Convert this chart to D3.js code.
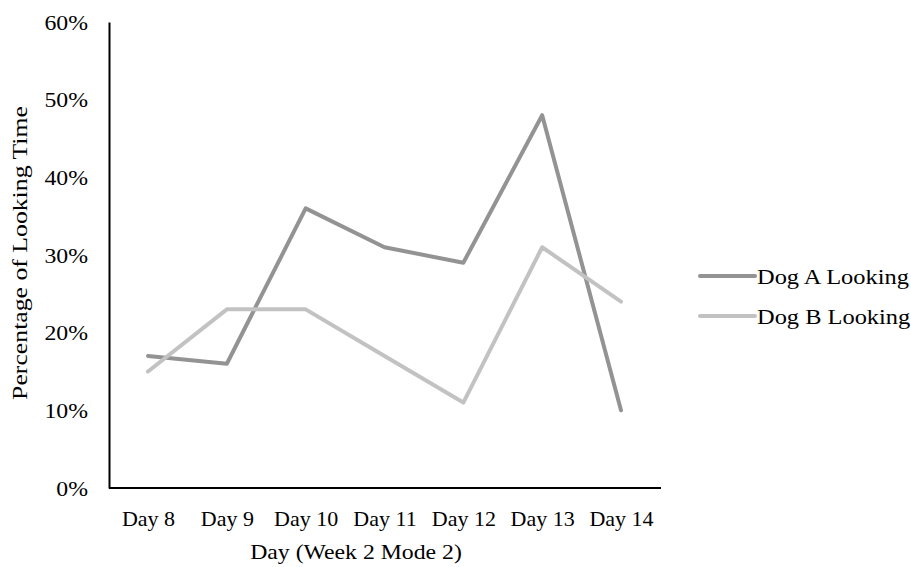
<!DOCTYPE html>
<html><head><meta charset="utf-8">
<script src="https://cdn.jsdelivr.net/npm/d3@7"></script>
<style>body{margin:0;background:#fff}text{font-family:"Liberation Serif","Times New Roman",serif;fill:#000}</style>
</head><body><svg id="c" width="911" height="567"></svg>
<script>
const categories = ["Day 8","Day 9","Day 10","Day 11","Day 12","Day 13","Day 14"];
const dogA = [0.17,0.16,0.36,0.31,0.29,0.48,0.10];
const dogB = [0.15,0.23,0.23,0.17,0.11,0.31,0.24];
const seriesNames = ["Dog A Looking","Dog B Looking"];
const seriesColors = ["#939393","#c2c2c2"];
const yTicks = [0,0.1,0.2,0.3,0.4,0.5,0.6];

const svg = d3.select("#c");
const x = d3.scalePoint().domain(categories).range([148,621]);
const y = d3.scaleLinear().domain([0,0.6]).range([488,22]);
const fs = 22;

function stretch(sel, s){
  sel.each(function(){
    const t = d3.select(this);
    const tx = +(t.attr("x")||0);
    t.attr("transform", `translate(${tx},0) scale(${s},1) translate(${-tx},0)`);
  });
}

// axes
const yAxis = svg.append("g").attr("transform","translate(109,0)")
  .call(d3.axisLeft(y).tickValues(yTicks).tickFormat(d3.format(".0%")).tickSize(0).tickPadding(21));
yAxis.select(".domain").attr("stroke","#000").attr("stroke-width",2);
yAxis.selectAll("text").attr("font-size",fs).attr("font-family","Liberation Serif").call(stretch,1.08);

const xAxis = svg.append("g").attr("transform","translate(0,488)")
  .call(d3.axisBottom(x).tickSize(0).tickPadding(22));
xAxis.select(".domain").attr("d","M109,0H661").attr("stroke","#000").attr("stroke-width",2);
xAxis.selectAll("text").attr("font-size",fs).attr("font-family","Liberation Serif");

// lines
const line = d3.line().x((d,i)=>x(categories[i])).y(d=>y(d));
[dogA,dogB].forEach((s,k)=>{
  svg.append("path").datum(s).attr("d",line).attr("fill","none")
    .attr("stroke",seriesColors[k]).attr("stroke-width",4)
    .attr("stroke-linejoin","round").attr("stroke-linecap","round");
});

// titles
svg.append("text").attr("x",356).attr("y",559).attr("text-anchor","middle")
  .attr("font-size",fs).text("Day (Week 2 Mode 2)").call(stretch,1.08);
svg.append("g").attr("transform","translate(27,253) rotate(-90)")
  .append("text").attr("text-anchor","middle")
  .attr("font-size",fs).text("Percentage of Looking Time").call(stretch,1.17);

// legend
seriesNames.forEach((n,k)=>{
  const ly = 276 + k*40;
  svg.append("line").attr("x1",700).attr("x2",755).attr("y1",ly).attr("y2",ly)
    .attr("stroke",seriesColors[k]).attr("stroke-width",4).attr("stroke-linecap","round");
  svg.append("text").attr("x",757).attr("y",ly).attr("dy","0.35em").attr("font-size",fs).text(n).call(stretch,1.11);
});
</script></body></html>
